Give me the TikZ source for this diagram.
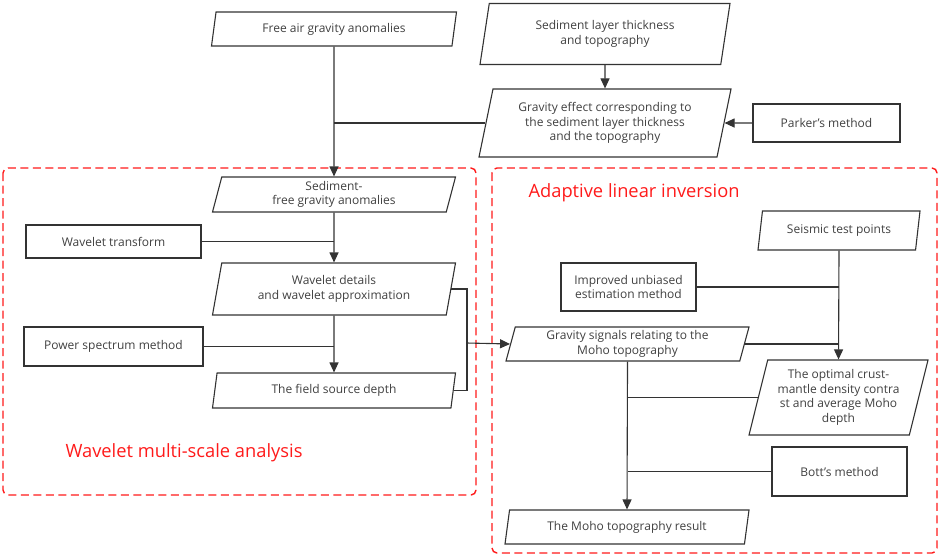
\documentclass[tikz,border=0pt]{standalone}
\usepackage{fontspec}
\setmainfont{Open Sans}
\usetikzlibrary{shapes.geometric,arrows.meta}
\definecolor{ink}{HTML}{333333}
\definecolor{inktext}{HTML}{404040}
\definecolor{frame}{HTML}{FF1A1A}
\begin{document}
\begin{tikzpicture}[x=1pt, y=-1pt,
	every node/.style={font=\fontsize{12}{14.5}\selectfont, text=inktext, align=center},
	data/.style={draw=ink, line width=1.1pt, trapezium, trapezium left angle=72, trapezium right angle=108, trapezium stretches body, inner sep=1pt},
	proc/.style={draw=ink, line width=1.1pt, rectangle, inner sep=1pt},
	link/.style={draw=ink, line width=1.1pt},
	flow/.style={link, -{Triangle[length=10pt, width=9pt]}},
	group/.style={draw=frame, line width=1.4pt, dash pattern=on 8pt off 4.5pt, rounded corners=5pt},
	title/.style={font=\fontsize{18.3}{20}\selectfont, text=frame, anchor=west}]
		\useasboundingbox (0,0) rectangle (941,558);
		\draw[group] (3,168) rectangle (476,495);
		\draw[group] (492,168) rectangle (937,553);
		\node[title] (tleft) at (62,453) {Wavelet multi-scale analysis};
		\node[title] (tright) at (525,193) {Adaptive linear inversion};

		\node[data, minimum width=245, minimum height=34] (free) at (334,29) {Free air gravity anomalies};
		\node[data, minimum width=250, minimum height=61] (sed) at (605,34) {Sediment layer thickness\\and topography};
		\node[data, minimum width=252, minimum height=68] (grav) at (605,123) {Gravity effect corresponding to\\the sediment layer thickness\\and the topography};
		\node[proc, minimum width=147, minimum height=38] (parker) at (826.5,123) {Parker's method};
		\node[data, minimum width=243, minimum height=35] (sedfree) at (334,194.5) {Sediment-\\free gravity anomalies};
		\node[proc, minimum width=175, minimum height=33] (wavetr) at (113.5,241.5) {Wavelet transform};
		\node[data, minimum width=243, minimum height=52] (wavedet) at (334,289) {Wavelet details\\and wavelet approximation};
		\node[proc, minimum width=179, minimum height=39] (power) at (113.5,346.5) {Power spectrum method};
		\node[data, minimum width=243, minimum height=35] (depth) at (334,390.5) {The field source depth};
		\node[data, minimum width=162, minimum height=39] (seismic) at (839,230.5) {Seismic test points};
		\node[proc, minimum width=135, minimum height=48] (unbiased) at (628.5,287) {Improved unbiased\\estimation method};
		\node[data, minimum width=243, minimum height=34] (signals) at (627.5,344) {Gravity signals relating to the\\Moho topography};
		\node[data, minimum width=179, minimum height=75] (optimal) at (838.5,397.5) {The optimal crust-\\mantle density contra\\st and average Moho\\depth};
		\node[proc, minimum width=135, minimum height=49] (bott) at (839.5,471.5) {Bott's method};
		\node[data, minimum width=244, minimum height=34] (moho) at (627,527) {The Moho topography result};

		\draw[flow] (free.south) -- (sedfree.north);
		\draw[link] (free.south |- grav.west) -- (grav.west);
		\draw[flow] (sed.south) -- (grav.north);
		\draw[flow] (parker.west) -- (grav.east);
		\draw[flow] (sedfree.south) -- (wavedet.north);
		\draw[link] (wavetr.east) -- (wavetr.east -| sedfree.south);
		\draw[flow] (wavedet.south) -- (depth.north);
		\draw[link] (power.east) -- (power.east -| wavedet.south);
		\coordinate (loop) at (467,343);
		\draw[link] (wavedet.east) -| (loop) |- (depth.east);
		\draw[flow] (loop) -- (signals.west);
		\draw[flow] (seismic.south) -- (optimal.north);
		\draw[link] (unbiased.east) -- (unbiased.east -| seismic.south);
		\draw[link] (signals.east) -- (signals.east -| seismic.south);
		\draw[flow] (signals.south) -- (moho.north);
		\draw[link] (optimal.west) -- (optimal.west -| signals.south);
		\draw[link] (bott.west) -- (bott.west -| signals.south);
\end{tikzpicture}
\end{document}
